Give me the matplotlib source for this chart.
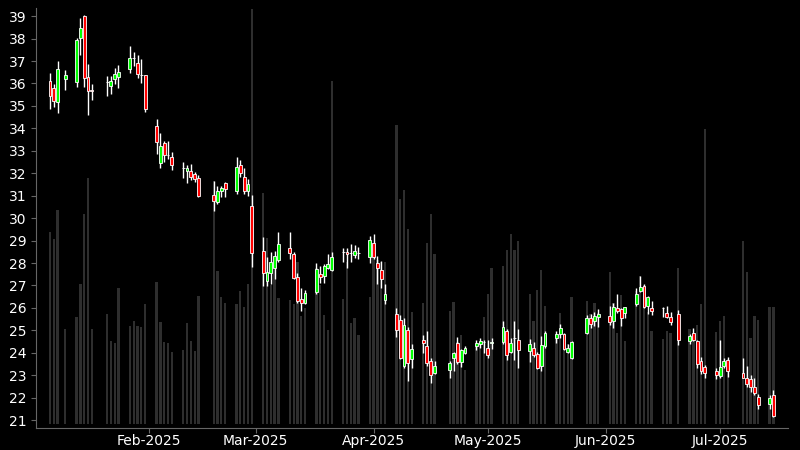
import matplotlib
matplotlib.use("Agg")
import matplotlib.pyplot as plt
import matplotlib.dates as mdates
import numpy as np
import pandas as pd

# trading days (US market calendar, Jan 6 - Jul 15 2025)
holidays = ["2025-01-09", "2025-01-20", "2025-02-17", "2025-04-18",
            "2025-05-26", "2025-06-19", "2025-07-04"]
dates = pd.bdate_range("2025-01-06", "2025-07-15", freq="C", holidays=holidays)

opens = [36.12, 35.81, 35.16, 36.21, 36.05, 38.01, 39.00, 36.29, 35.69, 36.05,
         35.90, 36.21, 36.30, 36.63, 37.12, 36.92, 36.40, 36.36, 34.09, 32.44,
         33.36, 32.82, 32.71, 32.22, 32.12, 32.11, 31.95, 31.78, 31.04, 30.70,
         31.22, 31.55, 31.23, 32.39, 31.83, 31.21, 30.52, 28.52, 27.21, 27.55,
         27.80, 28.15, 28.65, 28.41, 27.36, 26.38, 26.24, 26.69, 27.52, 27.43,
         27.76, 27.68, 28.49, 28.50, 28.44, 28.37, 28.46, 28.25, 28.89, 28.01,
         27.68, 26.36, 25.74, 25.47, 23.39, 25.03, 23.73, 24.58, 24.30, 23.64,
         23.10, 23.23, 23.75, 24.42, 23.60, 24.01, 24.30, 24.40, 24.46, 24.22,
         24.45, 24.46, 24.97, 24.04, 24.64, 24.55, 24.08, 24.22, 23.93, 23.42,
         24.31, 24.67, 24.85, 24.83, 24.04, 23.78, 24.86, 25.53, 25.41, 25.60,
         25.63, 25.41, 26.01, 25.95, 25.77, 26.19, 26.75, 26.97, 26.08, 25.98,
         26.01, 25.79, 25.60, 25.71, 24.52, 24.86, 24.53, 23.63, 23.36, 23.20,
         22.96, 23.42, 23.69, 23.10, 22.89, 22.81, 22.47, 22.02, 21.73, 22.14]

highs = [36.45, 35.97, 37.01, 36.58, 38.01, 38.93, 39.05, 36.86, 35.97, 36.33,
         36.33, 36.67, 36.82, 37.65, 37.40, 37.27, 37.07, 36.39, 34.40, 33.78,
         33.43, 33.43, 32.96, 32.48, 32.39, 32.41, 32.07, 31.92, 31.67, 31.44,
         31.43, 31.62, 32.72, 32.59, 32.24, 31.74, 31.03, 29.14, 28.26, 28.50,
         28.53, 29.39, 29.36, 28.50, 27.57, 26.87, 26.79, 28.01, 27.86, 27.94,
         28.41, 28.47, 28.68, 28.68, 28.86, 28.80, 28.72, 29.20, 29.30, 28.30,
         28.09, 27.05, 25.98, 25.68, 25.53, 25.14, 24.37, 24.79, 24.97, 23.78,
         23.64, 23.63, 24.04, 24.71, 24.19, 24.31, 24.55, 24.67, 24.58, 24.58,
         24.64, 25.41, 25.08, 24.67, 25.41, 25.06, 24.61, 24.46, 24.02, 24.74,
         24.97, 24.97, 25.28, 24.89, 24.41, 24.52, 25.68, 25.71, 25.83, 25.93,
         26.08, 26.20, 26.60, 26.01, 26.05, 26.87, 27.43, 27.08, 26.53, 26.30,
         26.05, 26.10, 25.83, 25.90, 24.82, 25.09, 24.59, 23.82, 23.45, 23.33,
         24.58, 23.78, 23.81, 23.78, 23.42, 23.01, 22.86, 22.17, 22.14, 22.34]

lows = [34.86, 34.96, 34.67, 35.69, 35.83, 37.27, 35.85, 34.59, 35.26, 35.45,
        35.54, 35.97, 35.78, 36.48, 36.78, 36.23, 36.03, 34.74, 32.88, 32.25,
        32.51, 32.63, 32.16, 31.77, 31.55, 31.70, 31.62, 30.94, 30.33, 30.64,
        30.95, 30.95, 31.07, 31.84, 31.07, 30.98, 27.83, 26.99, 26.99, 27.05,
        27.27, 28.06, 28.20, 27.28, 26.24, 25.87, 26.17, 26.63, 27.09, 27.09,
        27.72, 27.63, 28.06, 27.79, 28.03, 28.23, 28.20, 28.01, 28.17, 27.05,
        26.90, 26.17, 24.71, 23.72, 23.30, 22.75, 23.33, 23.97, 23.42, 22.66,
        23.04, 22.86, 23.18, 23.49, 23.36, 23.96, 24.13, 24.22, 23.97, 23.78,
        24.19, 24.37, 23.70, 23.99, 23.70, 23.33, 23.60, 23.81, 23.27, 23.21,
        24.22, 24.45, 24.67, 24.12, 23.97, 23.72, 24.82, 25.12, 25.20, 25.16,
        25.26, 25.12, 25.79, 25.18, 25.53, 26.10, 26.69, 25.98, 25.75, 25.67,
        25.60, 25.53, 25.23, 24.34, 24.40, 24.53, 23.33, 23.04, 22.86, 22.81,
        22.89, 23.30, 22.92, 22.86, 22.49, 22.26, 22.14, 21.49, 21.49, 21.15]

closes = [35.44, 35.23, 36.63, 36.36, 37.93, 38.48, 36.24, 35.66, 35.67, 36.05,
          36.13, 36.42, 36.51, 37.12, 37.12, 36.42, 36.40, 34.88, 33.39, 33.20,
          32.81, 32.82, 32.38, 32.22, 32.23, 31.83, 31.74, 31.00, 30.76, 31.22,
          31.34, 31.31, 32.30, 31.99, 31.22, 31.50, 28.44, 27.54, 27.61, 28.06,
          28.32, 28.83, 28.43, 27.34, 26.30, 26.24, 26.67, 27.72, 27.39, 27.86,
          27.95, 28.29, 28.51, 28.41, 28.44, 28.52, 28.46, 29.01, 28.28, 27.80,
          27.27, 26.63, 25.01, 23.78, 25.26, 23.54, 24.19, 24.45, 23.53, 23.01,
          23.39, 23.54, 23.97, 23.60, 24.13, 24.22, 24.45, 24.52, 24.46, 23.90,
          24.50, 25.13, 23.90, 24.45, 24.64, 24.13, 24.37, 23.90, 23.33, 24.34,
          24.89, 24.83, 25.09, 24.19, 24.23, 24.49, 25.53, 25.28, 25.65, 25.72,
          25.38, 26.02, 25.87, 25.53, 26.02, 26.64, 26.94, 26.05, 26.47, 25.86,
          26.01, 25.60, 25.35, 24.59, 24.73, 24.59, 23.48, 23.21, 23.10, 23.01,
          23.38, 23.63, 23.20, 22.89, 22.63, 22.47, 22.20, 21.67, 22.00, 21.19]

# volume in millions
volumes = [19.2, 18.5, 21.4, 9.5, 10.7, 14.0, 21.0, 24.6, 9.5, 11.0,
           8.3, 8.1, 13.6, 9.8, 10.3, 9.8, 9.7, 12.0, 14.2, 10.2,
           8.2, 8.1, 7.2, 7.4, 10.1, 8.3, 7.3, 12.8, 24.3, 15.3,
           12.7, 12.1, 12.0, 13.3, 11.7, 14.0, 41.5, 23.1, 18.6, 13.9,
           16.0, 12.6, 12.4, 12.0, 16.2, 10.8, 11.6, 15.6, 13.9, 10.9,
           9.4, 34.3, 12.5, 16.2, 10.1, 10.6, 8.9, 12.7, 16.7, 16.4,
           16.2, 16.2, 29.9, 22.5, 23.4, 19.5, 11.2, 12.1, 18.1, 21.0,
           17.0, 11.3, 12.2, 8.2, 8.9, 5.4, 7.9, 8.2, 10.7, 13.0,
           15.6, 15.8, 17.4, 19.0, 17.4, 18.3, 13.0, 10.3, 13.4, 15.4,
           11.8, 9.0, 11.1, 9.0, 8.0, 12.7, 12.3, 11.0, 12.1, 11.1,
           15.2, 12.1, 9.1, 12.9, 8.3, 13.3, 14.8, 13.9, 11.2, 9.3,
           8.5, 9.3, 9.1, 15.6, 9.5, 9.0, 9.9, 12.0, 29.5, 9.2,
           10.3, 10.8, 6.5, 18.3, 15.2, 8.6, 10.8, 10.4, 11.7, 11.7]

o = np.array(opens)
h = np.array(highs)
l = np.array(lows)
c = np.array(closes)
x = mdates.date2num(dates.to_pydatetime())

fig = plt.figure(figsize=(8, 4.5), dpi=100, facecolor="black")
ax = fig.add_axes([0.045, 0.05, 0.94, 0.932])
axv = ax.twinx()
ax.set_zorder(axv.get_zorder() + 1)
ax.patch.set_visible(False)
axv.set_facecolor("black")

# volume in the background
axv.bar(x, volumes, width=0.6, color="#2e2e2e", linewidth=0)
axv.set_ylim(-0.38, 41.57)
axv.set_yticks([])
for s in axv.spines.values():
    s.set_visible(False)

# candles
up = c >= o
cols = np.where(up, "#00ff00", "#ff0000")
ax.vlines(x, l, h, color="white", linewidth=1.0, zorder=2)
ax.bar(x, np.abs(c - o), bottom=np.minimum(o, c), width=0.75, color=cols,
       edgecolor="white", linewidth=0.6, zorder=3)

ax.set_ylim(20.67, 39.36)
ax.set_yticks(range(21, 40))
ax.set_xlim(mdates.date2num(pd.Timestamp("2025-01-02 08:00")),
            mdates.date2num(pd.Timestamp("2025-07-18 20:00")))
ax.xaxis.set_major_locator(mdates.MonthLocator())
ax.xaxis.set_major_formatter(mdates.DateFormatter("%b-%Y"))

for side in ["top", "right"]:
    ax.spines[side].set_visible(False)
for side in ["left", "bottom"]:
    ax.spines[side].set_color("#666666")
ax.tick_params(colors="#666666", labelcolor="white", labelsize=10, length=3.5)
ax.tick_params(axis="x", pad=1.5)

fig.savefig("out.png", dpi=100, facecolor="black")
